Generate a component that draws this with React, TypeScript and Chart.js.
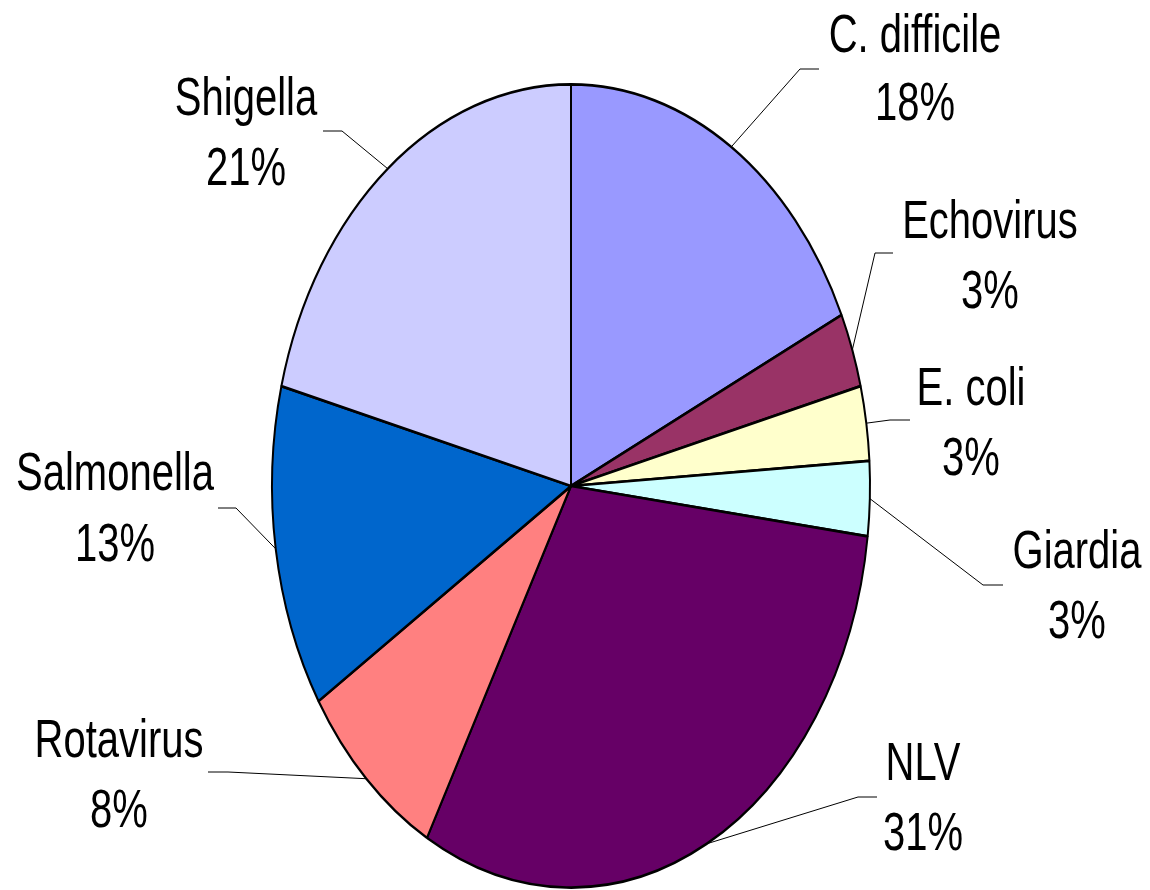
import React, { useEffect, useRef } from "react";
import { Chart, registerables } from "chart.js";

Chart.register(...registerables);

const categories = ["C. difficile", "Echovirus", "E. coli", "Giardia", "NLV", "Rotavirus", "Salmonella", "Shigella"];
const values = [18, 3, 3, 3, 31, 8, 13, 21];
const colors = ["#9999FF", "#993366", "#FFFFCC", "#CCFFFF", "#660066", "#FF8080", "#0066CC", "#CCCCFF"];

// layout: label centre x, name baseline, percent baseline, leader elbow x/y, leader end x/y (image px)
const labelLayout = [
  [915, 52, 120, 800, 69, 819, 69],
  [990, 238, 308, 875, 253, 893, 253],
  [971, 405, 475, 890, 420, 910, 420],
  [1077, 568, 638, 983, 585, 1003, 585],
  [923, 780, 850, 858, 797, 877, 797],
  [119, 757, 827, 228, 772, 208, 772],
  [115, 490, 561, 236, 508, 218, 508],
  [246, 115, 185, 342, 131, 323, 131],
];

const W = 1150;
const H = 890;
const SY = 1.343; // vertical stretch of the pie
const CX = 571;
const CY = 486;
const R = 300;

export default function App() {
  const ref = useRef<HTMLCanvasElement | null>(null);

  useEffect(() => {
    if (!ref.current) return;
    const cyLog = CY / SY;
    const stretch = {
      id: "stretch",
      beforeDatasetsDraw(chart: any) {
        chart.ctx.save();
        chart.ctx.scale(1, SY);
      },
      afterDatasetsDraw(chart: any) {
        chart.ctx.restore();
      },
      afterDraw(chart: any) {
        const ctx = chart.ctx as CanvasRenderingContext2D;
        const meta = chart.getDatasetMeta(0);
        meta.data.forEach((arc: any, i: number) => {
          const L = labelLayout[i];
          if (!L) return;
          const mid = (arc.startAngle + arc.endAngle) / 2;
          const ax = arc.x + arc.outerRadius * Math.cos(mid);
          const ay = (arc.y + arc.outerRadius * Math.sin(mid)) * SY;
          ctx.save();
          ctx.strokeStyle = "#000";
          ctx.lineWidth = 1;
          ctx.beginPath();
          ctx.moveTo(ax, ay);
          ctx.lineTo(L[3], L[4]);
          ctx.lineTo(L[5], L[6]);
          ctx.stroke();
          ctx.restore();

          const texts = [categories[i], values[i] + "%"];
          const bases = [L[1], L[2]];
          texts.forEach((t, k) => {
            ctx.save();
            ctx.translate(L[0], bases[k]);
            ctx.scale(1, SY);
            ctx.font = '40px "Liberation Sans", Arial, sans-serif';
            ctx.fillStyle = "#000";
            ctx.textAlign = "center";
            ctx.textBaseline = "alphabetic";
            ctx.fillText(t, 0, 0);
            ctx.restore();
          });
        });
      },
    };

    const chart = new Chart(ref.current, {
      type: "pie",
      data: {
        labels: categories,
        datasets: [
          {
            data: values,
            backgroundColor: colors,
            borderColor: "#000",
            borderWidth: 2,
          },
        ],
      },
      options: {
        responsive: false,
        animation: false,
        devicePixelRatio: 1,
        events: [],
        layout: {
          padding: {
            left: CX - R,
            right: W - (CX + R),
            top: cyLog - R,
            bottom: H - (cyLog + R),
          },
        },
        plugins: {
          legend: { display: false },
          tooltip: { enabled: false },
        },
      },
      plugins: [stretch],
    });
    return () => chart.destroy();
  }, []);

  return (
    <div style={{ position: "absolute", left: 0, top: 0, width: W, height: H, background: "#fff" }}>
      <canvas ref={ref} width={W} height={H} style={{ display: "block", width: W, height: H }} />
    </div>
  );
}
